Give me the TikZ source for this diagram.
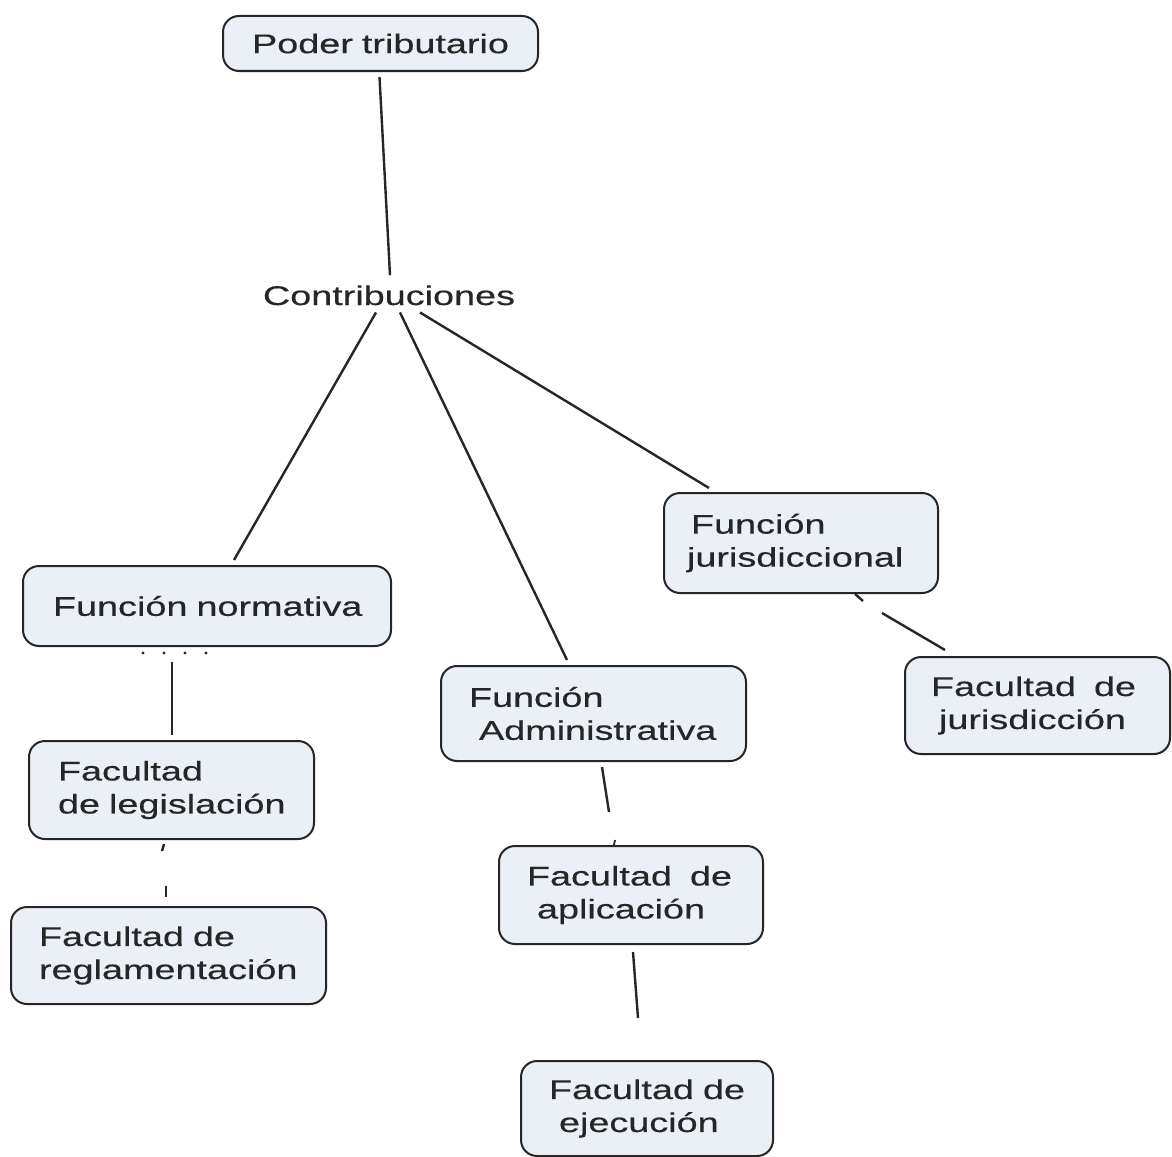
\documentclass[tikz,border=0pt]{standalone}
\usepackage{fontspec}
\setmainfont{Liberation Sans}[FakeStretch=1.4, FakeBold=0.4]
\usetikzlibrary{calc}
\definecolor{boxfill}{HTML}{EAF0F5}
\definecolor{ink}{HTML}{262626}
\tikzset{
  cbox/.style={draw=ink, fill=boxfill, line width=2pt, rounded corners=16pt,
    anchor=north west, align=left, inner ysep=0pt, text=ink,
    font=\fontsize{27pt}{33pt}\selectfont},
  conn/.style={draw=ink, line width=2.4pt},
}
\begin{document}
\begin{tikzpicture}[x=1pt,y=-1pt]
\useasboundingbox (0,0) rectangle (1172,1156);

\node[cbox, minimum width=315pt, minimum height=55pt, text width=315pt, align=center, inner xsep=0pt] (poder) at (222,15) {\mbox{Poder tributario}};
\node[inner sep=0pt, anchor=base, text=ink, font=\fontsize{27pt}{33pt}\selectfont] (contrib) at (389,305) {Contribuciones};

\node[cbox, minimum width=368pt, minimum height=80pt, text width=308pt, inner xsep=30pt] (norm) at (22,565) {\mbox{Función normativa}};
\node[cbox, minimum width=285pt, minimum height=98pt, text width=227pt, inner xsep=29pt] (legis) at (28,740) {\mbox{Facultad}\\\mbox{de legislación}};
\node[cbox, minimum width=315pt, minimum height=97pt, text width=259pt, inner xsep=28pt] (regla) at (10,906) {\mbox{Facultad de}\\\mbox{reglamentación}};
\node[cbox, minimum width=305pt, minimum height=95pt, text width=249pt, inner xsep=28pt] (admin) at (440,665) {\mbox{Función}\\\mbox{\hspace*{10pt}Administrativa}};
\node[cbox, minimum width=264pt, minimum height=98pt, text width=208pt, inner xsep=28pt] (aplic) at (498,845) {\mbox{Facultad\ \ de}\\\mbox{\hspace*{10pt}aplicación}};
\node[cbox, minimum width=252pt, minimum height=95pt, text width=196pt, inner xsep=28pt] (ejec) at (520,1060) {\mbox{Facultad de}\\\mbox{\hspace*{10pt}ejecución}};
\node[cbox, minimum width=274pt, minimum height=100pt, text width=228pt, inner xsep=23pt] (juris) at (663,492) {\mbox{\hspace*{4pt}Función}\\\mbox{jurisdiccional}};
\node[cbox, minimum width=265pt, minimum height=97pt, text width=213pt, inner xsep=26pt] (facjur) at (904,656) {\mbox{Facultad\ \ de}\\\mbox{\hspace*{8pt}jurisdicción}};

% connectors
\draw[conn] ([xshift=-1pt,yshift=-5pt]poder.south) -- ([xshift=1pt,yshift=10pt]contrib.north);
\draw[conn] ([xshift=-13pt,yshift=-7pt]contrib.south) -- ([xshift=27pt,yshift=5pt]norm.north);
\draw[conn] ([xshift=11pt,yshift=-7pt]contrib.south) -- ([xshift=-26.5pt,yshift=5pt]admin.north);
\draw[conn] ([xshift=31pt,yshift=-7pt]contrib.south) -- ([xshift=-92pt,yshift=4pt]juris.north);

% normativa -> legislacion
\foreach \dx in {-64,-43,-22,-1}
  \fill[ink] ([xshift=\dx pt,yshift=-6pt]norm.south) circle (1.7pt);
\draw[conn] ([xshift=-35pt,yshift=-15pt]norm.south) -- ([xshift=0.5pt,yshift=5pt]legis.north);

% legislacion -> reglamentacion (broken)
\draw[conn] ([xshift=-7.5pt,yshift=-4pt]legis.south) -- ([xshift=-9.5pt,yshift=-11pt]legis.south);
\draw[conn] ([xshift=-2.5pt,yshift=20pt]regla.north) -- ([xshift=-2.5pt,yshift=9pt]regla.north);

% administrativa -> aplicacion
\draw[conn] ([xshift=8.5pt,yshift=-5pt]admin.south) -- ([xshift=15.5pt,yshift=-50pt]admin.south);
\draw[conn, line width=1.8pt] ([xshift=-16pt,yshift=5pt]aplic.north) -- ([xshift=-17pt,yshift=0pt]aplic.north);

% aplicacion -> ejecucion
\draw[conn] ([xshift=2pt,yshift=-7pt]aplic.south) -- ([xshift=-9pt,yshift=42pt]ejec.north);

% jurisdiccional -> jurisdiccion
\draw[conn] ([xshift=-84pt,yshift=0pt]juris.south east) -- ([xshift=-76pt,yshift=-7pt]juris.south east);
\draw[conn] ([xshift=-22pt,yshift=43pt]facjur.north west) -- ([xshift=41pt,yshift=6pt]facjur.north west);
\end{tikzpicture}
\end{document}
